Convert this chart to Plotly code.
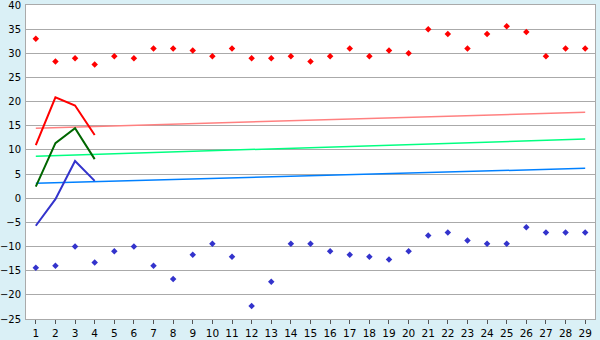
import plotly.graph_objects as go

days = list(range(1, 30))
max_vals = [33.0, 28.3, 29.0, 27.7, 29.4, 29.0, 31.0, 31.0, 30.6, 29.4,
            31.0, 29.0, 29.0, 29.4, 28.3, 29.4, 31.0, 29.4, 30.6, 30.0,
            35.0, 34.0, 31.0, 34.0, 35.6, 34.4, 29.4, 31.0, 31.0]
min_vals = [-14.4, -14.0, -10.0, -13.3, -11.0, -10.0, -14.0, -16.7, -11.7, -9.4,
            -12.1, -22.3, -17.3, -9.4, -9.4, -11.0, -11.7, -12.1, -12.7, -11.0,
            -7.7, -7.1, -8.75, -9.4, -9.4, -6.0, -7.1, -7.1, -7.1]
line_days = [1, 2, 3, 4]
line_max = [11.0, 20.9, 19.2, 13.1]
line_mean = [2.4, 11.4, 14.5, 8.1]
line_min = [-5.7, -0.2, 7.7, 3.6]
trend_days = [1, 29]
trend_max = [14.5, 17.8]
trend_mean = [8.7, 12.25]
trend_min = [3.1, 6.2]
y_ticks = list(range(-25, 45, 5))

fig = go.Figure()
fig.add_trace(go.Scatter(x=trend_days, y=trend_max, mode="lines",
                         line=dict(color="#ff8080", width=1.5)))
fig.add_trace(go.Scatter(x=trend_days, y=trend_mean, mode="lines",
                         line=dict(color="#00ff80", width=1.5)))
fig.add_trace(go.Scatter(x=trend_days, y=trend_min, mode="lines",
                         line=dict(color="#0080ff", width=1.5)))
fig.add_trace(go.Scatter(x=line_days, y=line_max, mode="lines",
                         line=dict(color="#ff0000", width=2)))
fig.add_trace(go.Scatter(x=line_days, y=line_mean, mode="lines",
                         line=dict(color="#006600", width=2)))
fig.add_trace(go.Scatter(x=line_days, y=line_min, mode="lines",
                         line=dict(color="#3333cc", width=2)))
fig.add_trace(go.Scatter(x=days, y=max_vals, mode="markers",
                         marker=dict(symbol="diamond", size=5, color="#ff0000")))
fig.add_trace(go.Scatter(x=days, y=min_vals, mode="markers",
                         marker=dict(symbol="diamond", size=5, color="#3333cc")))

fig.update_layout(
    width=600, height=340,
    margin=dict(l=26, r=5, t=5, b=21),
    paper_bgcolor="#daf0f6",
    plot_bgcolor="#ffffff",
    showlegend=False,
    hovermode=False,
    font=dict(family="DejaVu Sans", size=11, color="#000000"),
    xaxis=dict(range=[0.5, 29.5], tickvals=days, ticktext=[str(d) for d in days],
               showgrid=False, zeroline=False, showline=True, linecolor="#aaaaaa",
               linewidth=1, mirror=True, ticks="outside", ticklen=4,
               tickcolor="#555555", automargin=False, fixedrange=True,
               tickfont=dict(size=10.5)),
    yaxis=dict(range=[-25, 40], tickvals=y_ticks, showgrid=True, gridcolor="#aaaaaa",
               gridwidth=1, zeroline=False, showline=True, linecolor="#aaaaaa",
               linewidth=1, mirror=True, ticks="", ticklabelstandoff=2,
               ticklabeloverflow="allow", automargin=False, fixedrange=True,
               tickfont=dict(size=10)),
)

fig.write_html("out.html", config={"displayModeBar": False})
